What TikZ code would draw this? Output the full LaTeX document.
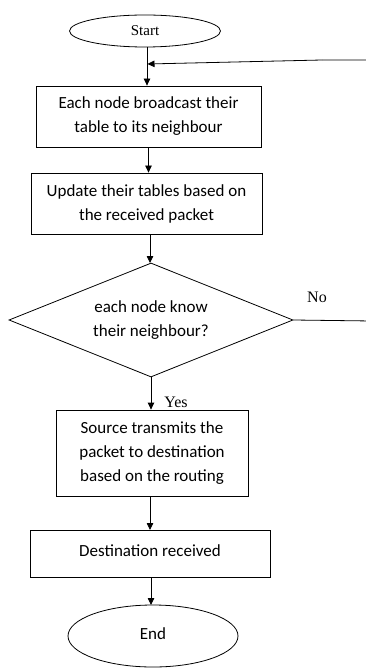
\documentclass[tikz,border=0pt]{standalone}
\usepackage{fontspec}
\setmainfont{Liberation Serif}
\newfontfamily\bodyfont{Carlito}
\usetikzlibrary{arrows.meta,shapes.geometric}
\begin{document}
\begin{tikzpicture}[x=1pt,y=-1pt,
  every path/.style={line width=0.8pt},
  flow/.style={-{Triangle[length=7pt,width=6.5pt]}},
  procbox/.style={draw, rectangle, inner sep=0pt, align=center,
    font=\bodyfont\fontsize{17}{24}\selectfont},
  term/.style={draw, ellipse, inner sep=0pt},
  decide/.style={draw, diamond, aspect=2.5, inner sep=0pt, align=center,
    font=\bodyfont\fontsize{17}{23.5}\selectfont},
  tag/.style={font=\fontsize{16}{18}\selectfont}]
\useasboundingbox (0,0) rectangle (366,668);

% terminals, steps and the decision
\node[term, minimum width=151pt, minimum height=32pt, font=\fontsize{15}{17}\selectfont]
  (start) at (145,31) {Start};
\node[procbox, minimum width=225pt, minimum height=61pt]
  (bcast) at (148.5,116.5) {Each node broadcast their\\table to its neighbour};
\node[procbox, minimum width=231pt, minimum height=61pt]
  (update) at (146.5,203.5) {Update their tables based on\\the received packet};
\node[decide, minimum width=284pt, minimum height=114pt]
  (know) at (151,320) {each node know\\their neighbour?};
\node[procbox, minimum width=192pt, minimum height=86pt]
  (send) at (152,453) {Source transmits the\\packet to destination\\based on the routing};
\node[procbox, minimum width=240pt, minimum height=47pt]
  (recv) at (150,553.5) {\raisebox{6pt}{Destination received}};
\node[term, minimum width=170pt, minimum height=62pt, font=\bodyfont\fontsize{17}{20}\selectfont]
  (stop) at (153,636) {\raisebox{4pt}{End}};

% main flow
\coordinate (top) at (147,47);
\coordinate (join) at (147,64);
\draw (top) -- (join);
\draw[flow] (join) -- (join |- bcast.north);
\draw[flow] (bcast.south) -- (bcast.south |- update.north);
\draw[flow] (update.south -| 150,0) -- (150,263);
\draw[flow] (know.south) -- (know.south |- send.north);
\draw[flow] (send.south -| 150,0) -- (150,530);
\draw[flow] (recv.south -| 151,0) -- (151,605);

% loop back when the neighbours are not yet known
\coordinate (edgeA) at (372,321);
\coordinate (edgeB) at (372,60);
\coordinate (bend) at (322,60);
\draw (know.east) -- (edgeA) -- (edgeB) -- (bend);
\draw[flow] (bend) -- ([xshift=0.5pt]join);

% branch labels
\node[tag] (nolbl) at (317,297) {No};
\node[tag] (yeslbl) at (176,402) {Yes};
\end{tikzpicture}
\end{document}
